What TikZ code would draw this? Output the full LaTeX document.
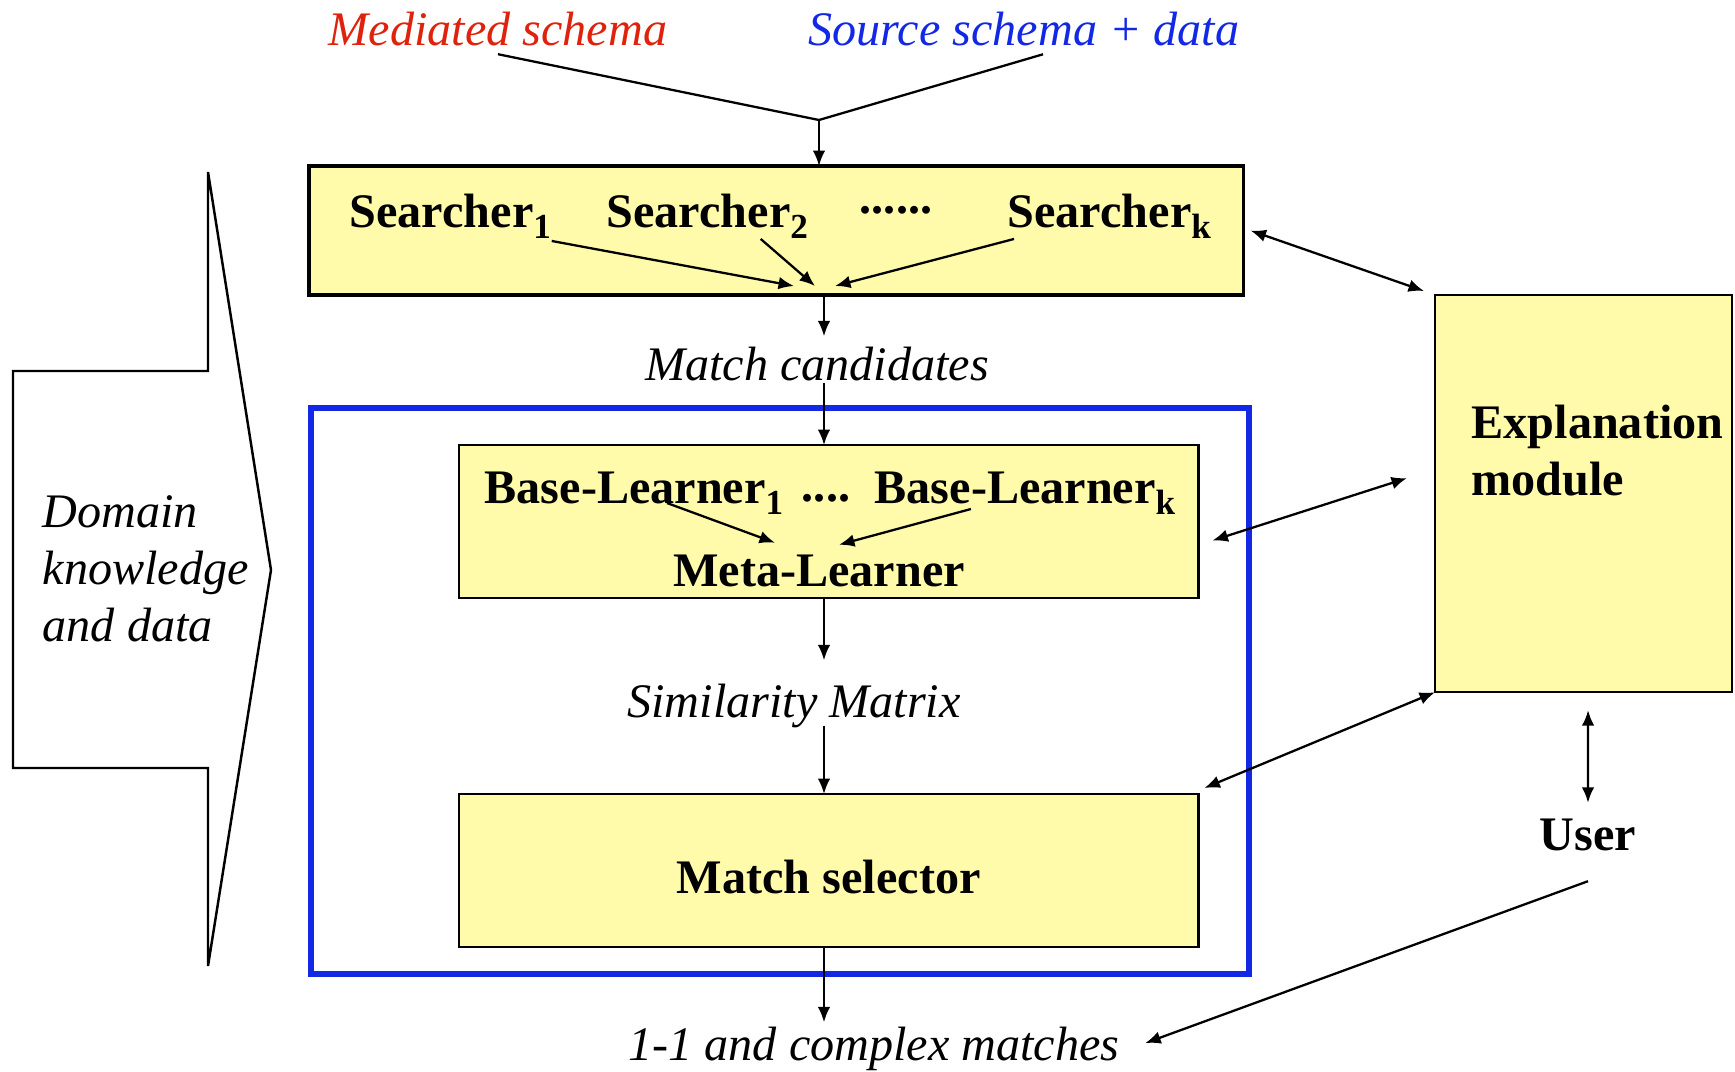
\documentclass[tikz,border=0pt]{standalone}
\usepackage{fontspec}
\setmainfont{Liberation Serif}
\usetikzlibrary{arrows.meta}
\definecolor{boxfill}{RGB}{255,251,170}
\definecolor{frameblue}{RGB}{18,40,228}
\definecolor{medred}{RGB}{222,34,12}
\newcommand{\lowidx}[1]{\raisebox{-3.2pt}{\fontsize{10}{10}\selectfont #1}}
\begin{document}
\begin{tikzpicture}[x=0.01cm, y=-0.01cm,
    box/.style={draw, fill=boxfill, line width=0.7pt, anchor=north west,
      inner sep=0pt, outer sep=0pt, font=\fontsize{13.7}{16.2}\selectfont\bfseries},
    bold/.style={inner sep=0pt, font=\fontsize{13.7}{16.2}\selectfont\bfseries},
    ital/.style={inner sep=0pt, font=\fontsize{13.7}{16.2}\selectfont\itshape},
    wire/.style={line width=0.65pt},
    link/.style={wire, -{Latex[length=4.4pt,width=3.6pt]}},
    twoway/.style={wire, {Latex[length=4.4pt,width=3.6pt]}-{Latex[length=4.4pt,width=3.6pt]}}]
  \useasboundingbox (0,0) rectangle (1735,1072);

  % Drawing inputs
  \node [ital, text=medred, anchor=base] (med) at (498,45) {Mediated schema};
  \node [ital, text=frameblue, anchor=base] (src) at (1024,45) {Source schema + data};
  \coordinate (join) at (819,120);
  \coordinate (spine) at (824,0);

  % Drawing domain knowledge arrow
  \draw [line width=0.7pt] (13,371) -- (208,371) -- (208,172) -- (271,570)
    -- (208,966) -- (208,768) -- (13,768) -- cycle;
  \node [ital, align=left, anchor=north west] (domain) at (42,495) {Domain\\knowledge\\and data};

  % Drawing searchers
  \node [box, line width=1.1pt, minimum width=9.34cm, minimum height=1.29cm] (searchers) at (309,166) {};
  \node [bold, anchor=base west] (s1) at (349,227) {Searcher\lowidx{1}};
  \node [bold, anchor=base west] (s2) at (606,227) {Searcher\lowidx{2}};
  \node [bold, anchor=base] (sdots) at (896,213) {......};
  \node [bold, anchor=base west] (sk) at (1007,227) {Searcher\lowidx{k}};
  \coordinate (meet) at (815,286);

  \node [ital, anchor=base, text height=0.43cm, text depth=0.02cm] (cands) at (817,380) {Match candidates};

  % Drawing learners inside blue frame
  \node [draw=frameblue, line width=1.7pt, anchor=north west, inner sep=0pt, outer sep=0pt,
    minimum width=9.37cm, minimum height=5.66cm] (frame) at (311,408) {};
  \node [box, minimum width=7.39cm, minimum height=1.53cm] (learners) at (459,445) {};
  \node [bold, anchor=base west] (b1) at (484,503) {Base-Learner\lowidx{1}};
  \node [bold, anchor=base] (bdots) at (826,501) {....};
  \node [bold, anchor=base west] (bk) at (874,503) {Base-Learner\lowidx{k}};
  \node [bold, anchor=base] (meta) at (819,586) {Meta-Learner};

  \node [ital, anchor=base, text height=0.56cm, text depth=0.08cm] (sim) at (794,717) {Similarity Matrix};
  \node [box, text height=0.47cm, minimum width=7.39cm, minimum height=1.53cm] (selector) at (459,794) {Match selector};
  \node [ital, anchor=base, text height=0.37cm] (matches) at (874,1060) {1-1 and complex matches};

  % Drawing explanation module and user
  \node [box, line width=0.6pt, minimum width=2.97cm, minimum height=3.97cm] (explbox) at (1435,295) {};
  \node [bold, align=left, anchor=north west] (expl) at (1471,404) {Explanation\\module};
  \node [bold, anchor=base] (user) at (1588,850) {User};

  % Drawing connectors
  \draw [wire] ([yshift=-0.08cm]med.south) -- (join);
  \draw [wire] ([xshift=0.19cm,yshift=-0.08cm]src.south) -- (join);
  \draw [link] (join) -- (join |- searchers.north);
  \draw [link] ([yshift=-0.02cm]s1.south east) -- ([xshift=-0.21cm]meet);
  \draw [link] ([xshift=-0.48cm]s2.south east) -- (meet);
  \draw [link] ([xshift=0.07cm]sk.south west) -- ([xshift=0.2cm]meet);
  \draw [link] (searchers.south -| spine) -- (cands.north -| spine);
  \draw [link] (cands.south -| spine) -- (learners.north -| spine);
  \draw [link] ([xshift=0.33cm]b1.base) -- ([xshift=-0.44cm,yshift=0.11cm]meta.north);
  \draw [link] ([xshift=-0.54cm,yshift=-0.06cm]bk.base) -- ([xshift=0.2cm,yshift=0.09cm]meta.north);
  \draw [link] (learners.south -| spine) -- (sim.north -| spine);
  \draw [link] (sim.south -| spine) -- (selector.north -| spine);
  \draw [link] (selector.south -| spine) -- (matches.north -| spine);

  \draw [twoway] ([xshift=0.07cm]searchers.east) -- ([xshift=-0.11cm,yshift=0.04cm]explbox.north west);
  \draw [twoway] ([xshift=0.14cm,yshift=-0.19cm]learners.east) -- ([xshift=-0.28cm,yshift=0.155cm]explbox.west);
  \draw [twoway] ([xshift=0.06cm,yshift=0.06cm]selector.north east) -- (explbox.south west);
  \draw [twoway] ([xshift=0.045cm,yshift=-0.18cm]explbox.south) -- ([yshift=0.15cm]user.north);
  \draw [link] ([yshift=-0.3cm]user.south) -- ([xshift=0.25cm,yshift=0.035cm]matches.east);
\end{tikzpicture}
\end{document}
